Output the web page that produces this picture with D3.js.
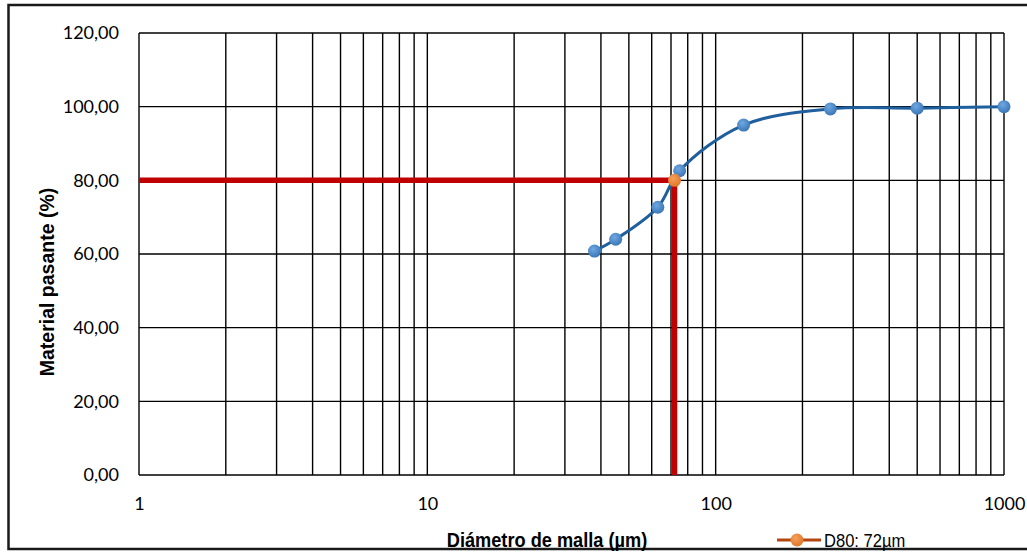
<!DOCTYPE html>
<html>
<head>
<meta charset="utf-8">
<script src="https://cdn.jsdelivr.net/npm/d3@7"></script>
<style>
  html, body { margin: 0; padding: 0; background: #fff; }
  svg { display: block; }
</style>
</head>
<body>
<svg id="chart" width="1027" height="552"></svg>
<script>
// sieve sizes (µm) and cumulative passing (%)
const sizes = [38, 45, 63, 75, 125, 250, 500, 1000];
const passing = [60.8, 64.0, 72.7, 82.6, 95.0, 99.4, 99.6, 100.0];

// D80 marker
const d80Size = 72;
const d80Value = 80;
const d80Label = 'D80: 72µm';

const xTicks = [1, 10, 100, 1000];
const yTicks = [0, 20, 40, 60, 80, 100, 120];

const W = 1027, H = 552;
const plot = { left: 139, right: 1004, top: 33, bottom: 475 };

const svg = d3.select('#chart');

const x = d3.scaleLog().domain([1, 1000]).range([plot.left, plot.right]);
const y = d3.scaleLinear().domain([0, 120]).range([plot.bottom, plot.top]);

// outer chart border (right side runs off the picture)
svg.append('path')
  .attr('d', `M${W + 5},5 H8.5 V549 H${W + 5}`)
  .attr('fill', 'none')
  .attr('stroke', '#1a1a1a')
  .attr('stroke-width', 2.5);

// gridlines
const minorX = [];
for (let dec = 1; dec < 1000; dec *= 10) {
  for (let k = 1; k <= 9; k++) minorX.push(dec * k);
}
minorX.push(1000);

const grid = svg.append('g');
grid.selectAll('line.vx')
  .data(minorX)
  .enter()
  .append('line')
  .attr('class', 'vx')
  .attr('x1', d => x(d)).attr('x2', d => x(d))
  .attr('y1', plot.top).attr('y2', plot.bottom)
  .attr('stroke', '#000')
  .attr('stroke-width', 1.4);

grid.selectAll('line.hy')
  .data(yTicks)
  .enter()
  .append('line')
  .attr('class', 'hy')
  .attr('x1', plot.left).attr('x2', plot.right)
  .attr('y1', d => y(d)).attr('y2', d => y(d))
  .attr('stroke', '#000')
  .attr('stroke-width', 1.4);

// axes (labels only, lines come from the grid)
const fmt = d3.formatLocale({ decimal: ',', thousands: '.', grouping: [3], currency: ['', ''] }).format('.2f');

const yAxis = svg.append('g')
  .attr('transform', `translate(${plot.left},0)`)
  .call(d3.axisLeft(y).tickValues(yTicks).tickFormat(fmt).tickSize(0).tickPadding(20));
yAxis.select('.domain').remove();
yAxis.selectAll('text')
  .attr('font-family', 'Lato, "Open Sans", sans-serif')
  .attr('font-size', 18)
  .attr('fill', '#000');

const xAxis = svg.append('g')
  .attr('transform', `translate(0,${plot.bottom})`)
  .call(d3.axisBottom(x).tickValues(xTicks).tickFormat(d3.format('d')).tickSize(0).tickPadding(22));
xAxis.select('.domain').remove();
xAxis.selectAll('text')
  .attr('font-family', 'Lato, "Open Sans", sans-serif')
  .attr('font-size', 18)
  .attr('fill', '#000');

// axis titles
svg.append('text')
  .attr('transform', 'translate(54,282) rotate(-90)')
  .attr('text-anchor', 'middle')
  .attr('font-family', 'Liberation Sans, Arial, sans-serif')
  .attr('font-weight', 'bold')
  .attr('font-size', 19.5)
  .text('Material pasante (%)');

svg.append('text')
  .attr('transform', 'translate(547,547) scale(0.91,1)')
  .attr('text-anchor', 'middle')
  .attr('font-family', 'Liberation Sans, Arial, sans-serif')
  .attr('font-weight', 'bold')
  .attr('font-size', 20)
  .text('Diámetro de malla (µm)');

// D80 guide lines
const d80Path = [[1, d80Value], [d80Size, d80Value], [d80Size, 0]];
svg.append('path')
  .datum(d80Path)
  .attr('d', d3.line().x(d => x(d[0])).y(d => y(d[1])))
  .attr('fill', 'none')
  .attr('stroke', '#c00000')
  .attr('stroke-width', 5.5);

// particle size curve
const series = sizes.map((s, i) => ({ s, p: passing[i] }));
const defs = svg.append('defs');
const grad = defs.append('radialGradient').attr('id', 'blueDot').attr('cx', '40%').attr('cy', '35%').attr('r', '65%');
grad.append('stop').attr('offset', '0%').attr('stop-color', '#6fa8e0');
grad.append('stop').attr('offset', '100%').attr('stop-color', '#3b77b8');
const ograd = defs.append('radialGradient').attr('id', 'orangeDot').attr('cx', '40%').attr('cy', '35%').attr('r', '65%');
ograd.append('stop').attr('offset', '0%').attr('stop-color', '#f6a05a');
ograd.append('stop').attr('offset', '100%').attr('stop-color', '#e0772a');

svg.append('path')
  .datum(series)
  .attr('d', d3.line().curve(d3.curveCatmullRom.alpha(0.5)).x(d => x(d.s)).y(d => y(d.p)))
  .attr('fill', 'none')
  .attr('stroke', '#1f5f9e')
  .attr('stroke-width', 3);

svg.selectAll('circle.pt')
  .data(series)
  .enter()
  .append('circle')
  .attr('class', 'pt')
  .attr('cx', d => x(d.s))
  .attr('cy', d => y(d.p))
  .attr('r', 6.5)
  .attr('fill', 'url(#blueDot)');

// D80 point
svg.append('circle')
  .attr('cx', x(d80Size))
  .attr('cy', y(d80Value))
  .attr('r', 6.5)
  .attr('fill', 'url(#orangeDot)');

// legend
const lg = svg.append('g').attr('transform', 'translate(777,540)');
lg.append('line')
  .attr('x1', 0).attr('x2', 44)
  .attr('stroke', '#b4470f')
  .attr('stroke-width', 3);
lg.append('circle')
  .attr('cx', 20).attr('r', 6.5)
  .attr('fill', 'url(#orangeDot)');
lg.append('text')
  .attr('transform', 'translate(47,6.5) scale(0.92,1)')
  .attr('font-family', 'Liberation Sans, Arial, sans-serif')
  .attr('font-size', 18)
  .text(d80Label);
</script>
</body>
</html>
